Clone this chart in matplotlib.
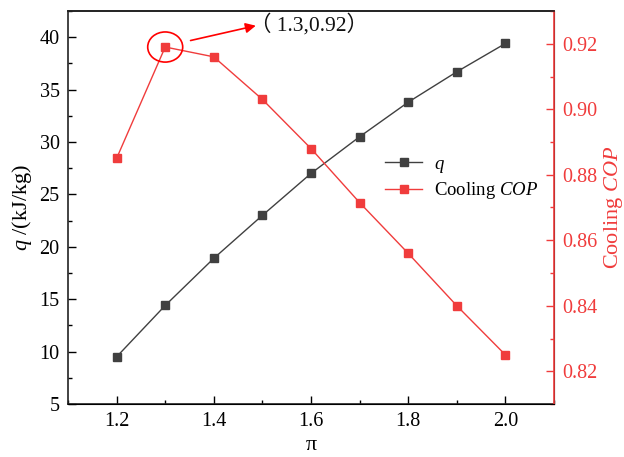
import matplotlib
matplotlib.use("Agg")
import matplotlib.pyplot as plt
from matplotlib.patches import Ellipse
from matplotlib.ticker import MultipleLocator, FormatStrFormatter

plt.rcParams['font.family'] = ['Liberation Serif', 'Noto Sans CJK SC']
plt.rcParams['mathtext.fontset'] = 'custom'
plt.rcParams['mathtext.rm'] = 'Liberation Serif'
plt.rcParams['mathtext.it'] = 'Liberation Serif:italic'

pi_vals = [1.2, 1.3, 1.4, 1.5, 1.6, 1.7, 1.8, 1.9, 2.0]
q_vals = [9.5, 14.4, 18.9, 23.0, 27.0, 30.5, 33.8, 36.7, 39.4]
cop_vals = [0.885, 0.919, 0.916, 0.903, 0.888, 0.8715, 0.856, 0.840, 0.825]

c_q = '#404040'
c_cop = '#f03c3c'
fs = 14.5
lfs = 16

fig = plt.figure(figsize=(6.24, 4.57), dpi=100)
ax = fig.add_axes([68/624, 1-404/457, (554-68)/624, (404-11)/457])
ax2 = ax.twinx()

l1, = ax.plot(pi_vals, q_vals, color=c_q, marker='s', markersize=6, lw=1, label='$q$')
l2, = ax2.plot(pi_vals, cop_vals, color=c_cop, marker='s', markersize=6, lw=1,
               label='Cooling $\\mathit{COP}$')

ax.set_xlim(1.1, 2.1)
ax.set_ylim(5, 42.5)
ax2.set_ylim(0.81, 0.93)

ax.set_xticks([1.2, 1.4, 1.6, 1.8, 2.0])
ax.set_xticklabels(['1.2', '1.4', '1.6', '1.8', '2.0'])
ax.xaxis.set_minor_locator(MultipleLocator(0.1))
ax.yaxis.set_major_locator(MultipleLocator(5))
ax.yaxis.set_minor_locator(MultipleLocator(2.5))
ax2.yaxis.set_major_locator(MultipleLocator(0.02))
ax2.yaxis.set_minor_locator(MultipleLocator(0.01))
ax2.yaxis.set_major_formatter(FormatStrFormatter('%.2f'))

ax.tick_params(which='major', direction='in', length=6, width=1, labelsize=fs,
               top=False, right=False, pad=6)
ax.tick_params(which='minor', direction='in', length=3, width=1, top=False, right=False)
ax2.tick_params(which='major', direction='in', length=6, width=1, labelsize=fs,
                colors=c_cop, pad=6)
ax2.tick_params(which='minor', direction='in', length=3, width=1, colors=c_cop)
ax2.tick_params(axis='x', which='both', top=False, bottom=False)

for s in ['left', 'bottom', 'top']:
    ax.spines[s].set_linewidth(1.2)
    ax.spines[s].set_color('#222222')
ax2.spines['right'].set_color(c_cop)
ax2.spines['right'].set_linewidth(1.2)
ax2.spines['top'].set_linewidth(1.2)
ax2.spines['top'].set_color('#222222')
ax2.spines['left'].set_visible(False)

ax.set_xlabel('π', fontsize=lfs, labelpad=3)
ax.set_ylabel('$q$ /(kJ/kg)', fontsize=lfs, labelpad=4)
ax2.set_ylabel('Cooling $\\mathit{COP}$', fontsize=lfs, color=c_cop, labelpad=3)

ax2.legend([l1, l2], ['$q$', 'Cooling $\\mathit{COP}$'], loc='center left',
           bbox_to_anchor=(0.625, 0.574), frameon=False, fontsize=13.5,
           handlelength=2.0, handletextpad=0.6, labelspacing=0.3, borderpad=0.2)

# annotation
ell = Ellipse((1.3, 0.919), width=0.072, height=0.0092, fill=False, edgecolor='red',
              lw=1.2, transform=ax2.transData, zorder=5)
ax2.add_patch(ell)
ax2.annotate('', xy=(1.492, 0.9257), xytext=(1.3466, 0.9208),
             arrowprops=dict(arrowstyle='-|>', color='red', lw=1.2, mutation_scale=15))
ax2.text(1.474, 0.9257, '（ 1.3,0.92）', fontsize=15.5, va='center', ha='left',
         color='#111111')

fig.savefig('out.png', dpi=100)
